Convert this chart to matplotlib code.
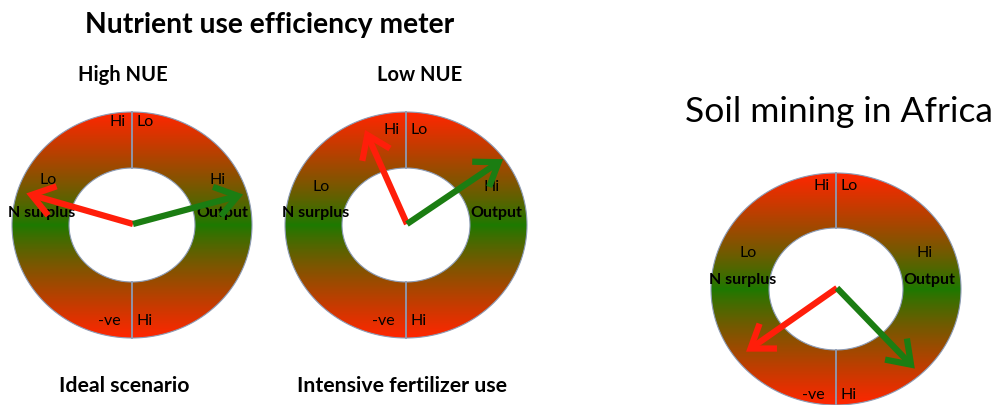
import numpy as np
import matplotlib
matplotlib.use('Agg')
import matplotlib.pyplot as plt
from matplotlib.path import Path
from matplotlib.patches import PathPatch, FancyArrowPatch

# three meters: headings above, captions below
headings = ['High NUE', 'Low NUE', '']
captions = ['Ideal scenario', 'Intensive fertilizer use', '']
# arrow directions (degrees, counter-clockwise from east) and lengths (pixels)
surplus_angle = [164, 114, 215]
surplus_len = [111, 103, 111]
output_angle = [15, 34, -46]
output_len = [114, 116, 112]

RED = np.array([255, 38, 0]) / 255.
GREEN = np.array([28, 122, 0]) / 255.
ARROW_RED = '#FF1E0A'
ARROW_GREEN = '#1B7D12'
EDGE = '#8C9BB5'

plt.rcParams['font.family'] = ['Lato', 'DejaVu Sans']

fig = plt.figure(figsize=(9.93, 4.05), dpi=100)
ax = fig.add_axes([0, 0, 1, 1])
ax.set_xlim(0, 993)
ax.set_ylim(405, 0)
ax.axis('off')

# ring geometry: centre, outer radii, inner radii
rings = [(132, 225, 120, 113, 63, 57),
         (406, 225, 121, 113, 64, 57),
         (836, 289, 125, 116, 67, 61)]
# vertical offsets (fraction of ry) for label rows: top, side, name, bottom
rows = [(-0.91, -0.40, -0.11, 0.85),
        (-0.84, -0.34, -0.11, 0.85),
        (-0.89, -0.31, -0.08, 0.91)]
head_x = [123, 420]
cap_x = [124, 402]


def ellipse_pts(cx, cy, rx, ry, rev=False):
    t = np.linspace(0, 2 * np.pi, 200)
    if rev:
        t = t[::-1]
    return np.column_stack([cx + rx * np.cos(t), cy + ry * np.sin(t)])


for i, (cx, cy, rx, ry, irx, iry) in enumerate(rings):
    outer = ellipse_pts(cx, cy, rx, ry)
    inner = ellipse_pts(cx, cy, irx, iry, rev=True)
    verts = np.vstack([outer, inner])
    codes = ([Path.MOVETO] + [Path.LINETO] * (len(outer) - 1)
             + [Path.MOVETO] + [Path.LINETO] * (len(inner) - 1))
    ring = Path(verts, codes)
    patch = PathPatch(ring, facecolor='none', edgecolor=EDGE, lw=0.8, zorder=3)
    ax.add_patch(patch)

    ys = np.linspace(cy - ry, cy + ry, 300)
    t = np.clip(np.abs(ys - cy) / ry, 0, 1) ** 0.85
    grad = GREEN[None, :] + (RED - GREEN)[None, :] * t[:, None]
    img = ax.imshow(grad[:, None, :], extent=(cx - rx, cx + rx, cy + ry, cy - ry),
                    origin='upper', aspect='auto', interpolation='bilinear', zorder=1)
    img.set_clip_path(PathPatch(ring, transform=ax.transData))

    # divider lines
    ax.plot([cx, cx], [cy - ry, cy - iry], color=EDGE, lw=1.3, zorder=4)
    ax.plot([cx, cx], [cy + iry, cy + ry], color=EDGE, lw=1.3, zorder=4)

    top, side, name, bot = rows[i]
    fs = 11.5
    ax.text(cx - 6, cy + top * ry, 'Hi', ha='right', va='center', fontsize=fs, zorder=5)
    ax.text(cx + 4, cy + top * ry, 'Lo', ha='left', va='center', fontsize=fs, zorder=5)
    ax.text(cx - 0.70 * rx, cy + side * ry, 'Lo', ha='center', va='center', fontsize=fs, zorder=5)
    ax.text(cx + 0.71 * rx, cy + side * ry, 'Hi', ha='center', va='center', fontsize=fs, zorder=5)
    ax.text(cx - 0.75 * rx, cy + name * ry, 'N surplus', ha='center', va='center',
            fontsize=fs, fontweight='bold', zorder=5)
    ax.text(cx + 0.75 * rx, cy + name * ry, 'Output', ha='center', va='center',
            fontsize=fs, fontweight='bold', zorder=5)
    ax.text(cx - 11, cy + bot * ry, '-ve', ha='right', va='center', fontsize=fs, zorder=5)
    ax.text(cx + 5, cy + bot * ry, 'Hi', ha='left', va='center', fontsize=fs, zorder=5)

    # arrows
    ox, oy = cx + 1, cy - 1
    for ang, ln, col in ((surplus_angle[i], surplus_len[i], ARROW_RED),
                         (output_angle[i], output_len[i], ARROW_GREEN)):
        a = np.deg2rad(ang)
        tip = (ox + ln * np.cos(a), oy - ln * np.sin(a))
        arr = FancyArrowPatch((ox, oy), tip, arrowstyle='->,head_length=0.6,head_width=0.42',
                              mutation_scale=26, lw=4.5, color=col,
                              shrinkA=0, shrinkB=0, joinstyle='miter', capstyle='butt',
                              zorder=6)
        ax.add_patch(arr)

    if headings[i]:
        ax.text(head_x[i], 75, headings[i], ha='center', va='center',
                fontsize=14.5, fontweight='bold')
    if captions[i]:
        ax.text(cap_x[i], 386, captions[i], ha='center', va='center',
                fontsize=15.3, fontweight='bold')

ax.text(270, 25, 'Nutrient use efficiency meter', ha='center', va='center',
        fontsize=20.3, fontweight='bold')
ax.text(839, 112, 'Soil mining in Africa', ha='center', va='center', fontsize=25.5)

fig.savefig('out.png', dpi=100)
